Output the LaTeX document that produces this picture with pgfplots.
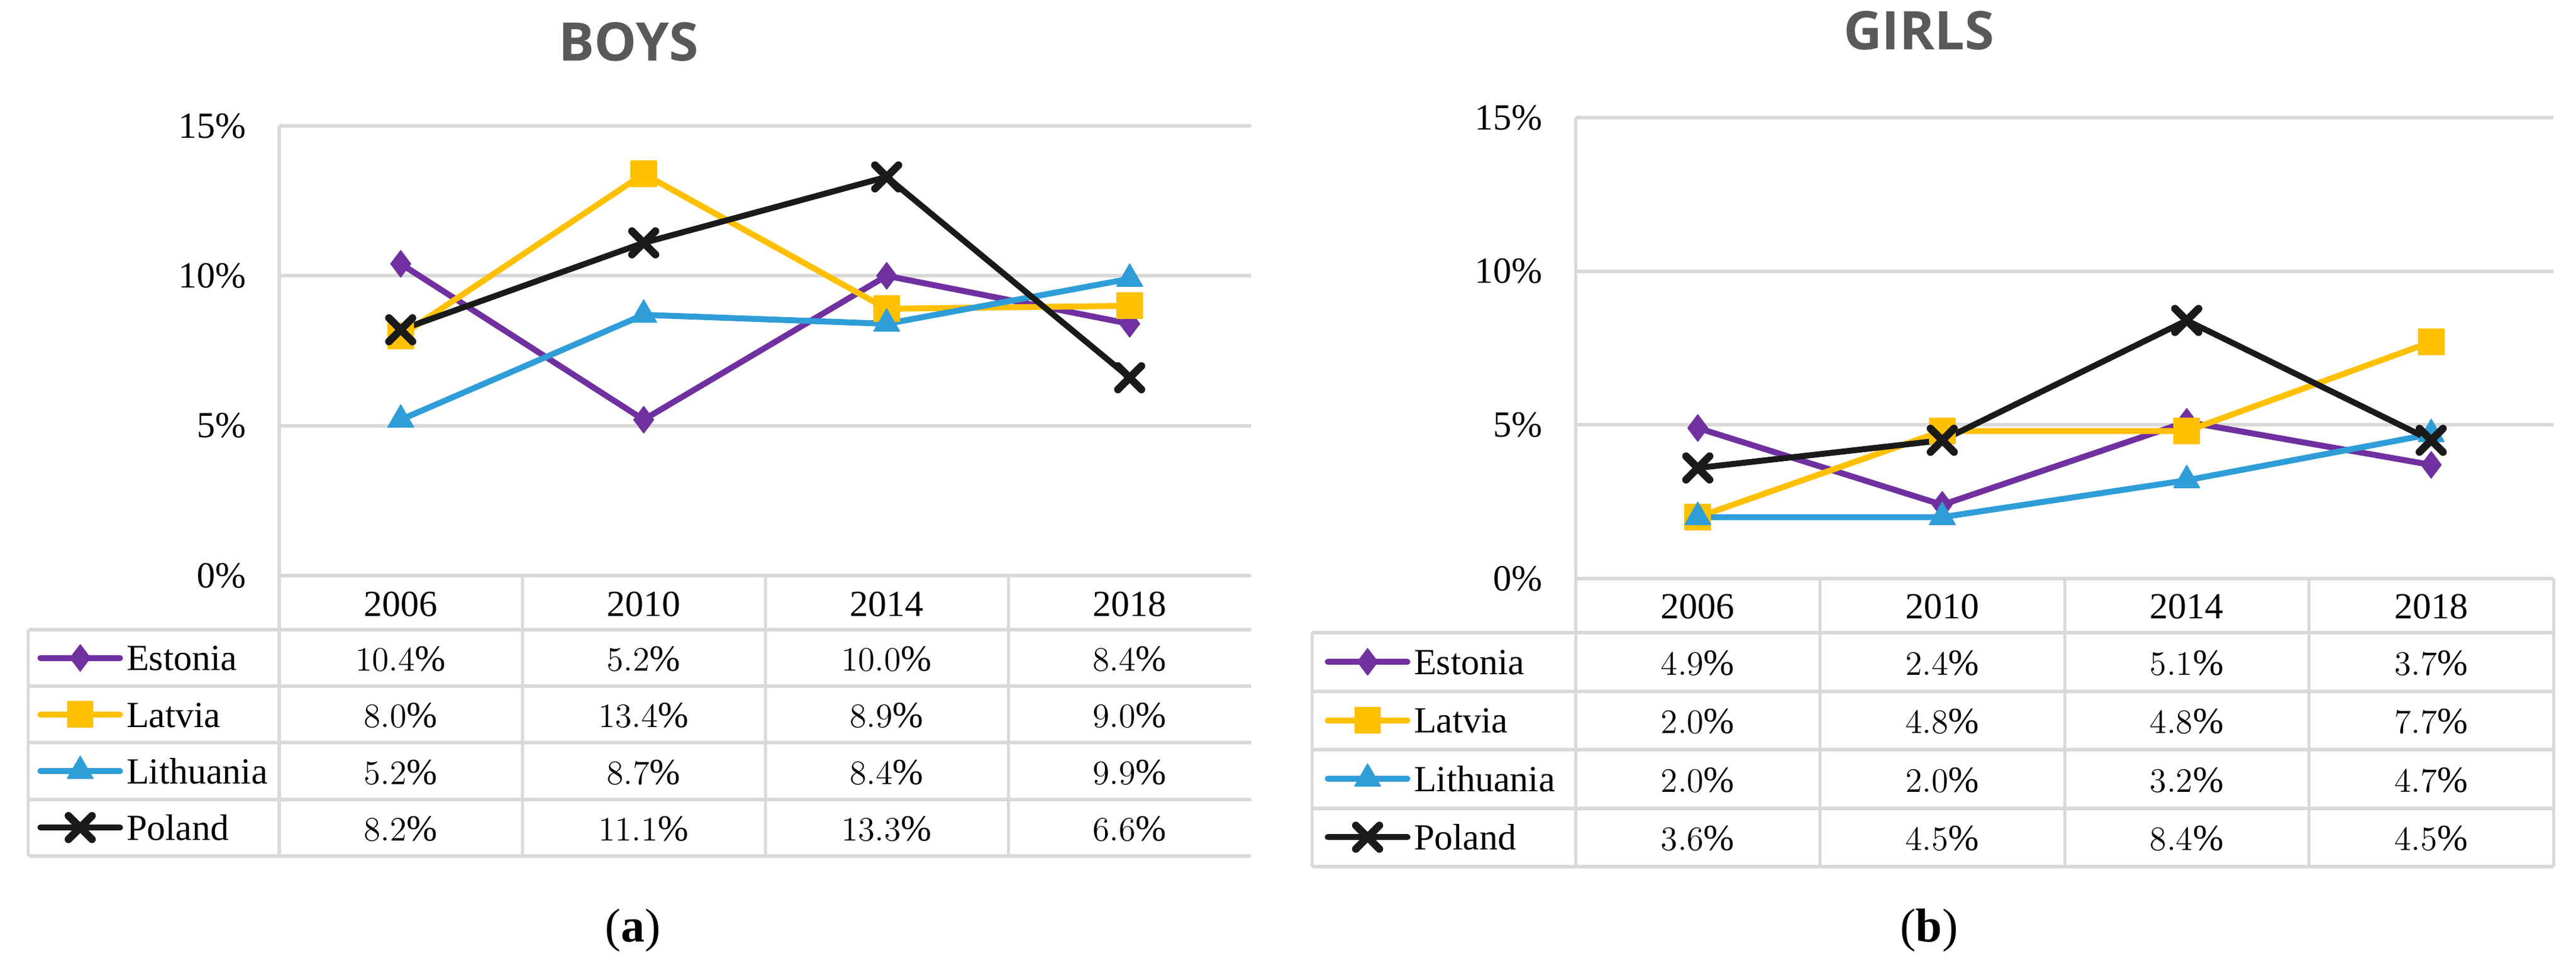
\documentclass[border=0pt]{standalone}
\usepackage{fontspec}
\setmainfont{Liberation Serif}
\newfontfamily\titlefont{Open Sans}
\usepackage{pgfplots}
\pgfplotsset{compat=1.18}
\usepackage{pgfplotstable}

\definecolor{cEst}{HTML}{7030A0}
\definecolor{cLat}{HTML}{FFC000}
\definecolor{cLit}{HTML}{2E9DD8}
\definecolor{cPol}{HTML}{1A1A1A}
\definecolor{gridc}{HTML}{D9D9D9}
\definecolor{titlec}{HTML}{595959}

\pgfplotstableread{
x Estonia Latvia Lithuania Poland
0 10.4 8.0 5.2 8.2
1 5.2 13.4 8.7 11.1
2 10.0 8.9 8.4 13.3
3 8.4 9.0 9.9 6.6
}\boys

\pgfplotstableread{
x Estonia Latvia Lithuania Poland
0 4.9 2.0 2.0 3.6
1 2.4 4.8 2.0 4.5
2 5.1 4.8 3.2 8.4
3 3.7 7.7 4.7 4.5
}\girls

\newcommand{\tfont}{\fontsize{15.5}{18}\selectfont}

\tikzset{
  tline/.style={gridc, line width=1.5pt},
  vline/.style={gridc, line width=1.25pt},
}

\pgfplotsset{
  every axis title shift=0pt,
  base/.style={
    scale only axis, clip=false,
    xmin=-0.5, xmax=3.5, ymin=0, ymax=15,
    axis line style={draw=none}, major tick length=0pt,
    xtick={0,1,2,3}, xticklabels={2006,2010,2014,2018},
    ytick={0,5,10,15}, yticklabels={0\%,5\%,10\%,15\%},
    ymajorgrids, grid style={gridc, line width=1.5pt},
    tick label style={font=\tfont},
    yticklabel style={anchor=east, inner sep=0pt, xshift=-13.75pt},
    legend cell align=left,
    legend image code/.code={\draw[mark repeat=2,mark phase=2,#1] plot coordinates {(0pt,0pt) (16.75pt,0pt) (33.5pt,0pt)};},
    title style={font=\titlefont\bfseries\fontsize{22.4}{26}\selectfont, text=titlec, anchor=center, inner sep=0pt},
  },
  sEst/.style={color=cEst, line width=2.5pt, line join=round, line cap=round, mark=diamond*, mark size=5.6pt, mark options={solid, line width=0.4pt, fill=cEst}},
  sLat/.style={color=cLat, line width=2.5pt, line join=round, line cap=round, mark=square*, mark size=5.4pt, mark options={solid, line width=0.4pt, fill=cLat}},
  sLit/.style={color=cLit, line width=2.5pt, line join=round, line cap=round, mark=triangle*, mark size=6.3pt, mark options={solid, line width=0.4pt, fill=cLit}},
  sPol/.style={color=cPol, line width=2.5pt, line join=round, line cap=round, mark=x, mark size=7pt, mark options={solid, line width=3.2pt}},
  tval/.style={forget plot, draw=none, mark=none,
    nodes near coords={\pgfmathprintnumber[fixed,fixed zerofill,precision=1]{\pgfplotspointmeta}\%},
    nodes near coords style={anchor=center, text=black, font=\tfont, inner sep=0pt, text height=11pt, text depth=0pt}},
}

\begin{document}
\begin{tikzpicture}
\path[use as bounding box] (0,0) rectangle (1084pt,-409.5pt);

% ---------------- BOYS ----------------
\begin{axis}[base,
  at={(117.5pt,-242.25pt)}, anchor=south west,
  width=409pt, height=189.25pt,
  xticklabel style={anchor=center, inner sep=0pt, text height=11pt, text depth=0pt, yshift=-11.5pt},
  title={BOYS}, title style={at={(axis description cs:0.3595,1.1876)}},
  legend style={at={(axis description cs:-0.24875,-0.1202)}, anchor=north west, draw=none, fill=none,
    inner sep=0pt, outer sep=0pt, row sep=0pt, column sep=1.5pt, font=\tfont,
    nodes={inner sep=0pt, text height=17.2pt, text depth=6.6pt}},
]
\draw[vline] (axis cs:-0.5,15) -- (axis cs:-0.5,-9.351);
\draw[vline] (axis cs:0.5,0) -- (axis cs:0.5,-9.351);
\draw[vline] (axis cs:1.5,0) -- (axis cs:1.5,-9.351);
\draw[vline] (axis cs:2.5,0) -- (axis cs:2.5,-9.351);
\draw[vline] (axis cs:-1.532,-1.803) -- (axis cs:-1.532,-9.351);
\draw[tline] (axis cs:-1.532,-1.803) -- (axis cs:3.5,-1.803);
\draw[tline] (axis cs:-1.532,-3.690) -- (axis cs:3.5,-3.690);
\draw[tline] (axis cs:-1.532,-5.577) -- (axis cs:3.5,-5.577);
\draw[tline] (axis cs:-1.532,-7.464) -- (axis cs:3.5,-7.464);
\draw[tline] (axis cs:-1.532,-9.351) -- (axis cs:3.5,-9.351);

\addplot[sEst] table[x=x, y=Estonia] {\boys};
\addlegendentry{Estonia}
\addplot[sLat] table[x=x, y=Latvia] {\boys};
\addlegendentry{Latvia}
\addplot[sLit] table[x=x, y=Lithuania] {\boys};
\addlegendentry{Lithuania}
\addplot[sPol] table[x=x, y=Poland] {\boys};
\addlegendentry{Poland}

\addplot[tval, point meta=\thisrow{Estonia}] table[x=x, y expr=-2.747] {\boys};
\addplot[tval, point meta=\thisrow{Latvia}] table[x=x, y expr=-4.634] {\boys};
\addplot[tval, point meta=\thisrow{Lithuania}] table[x=x, y expr=-6.521] {\boys};
\addplot[tval, point meta=\thisrow{Poland}] table[x=x, y expr=-8.408] {\boys};

\node[font=\fontsize{20}{24}\selectfont, inner sep=0pt] at (axis description cs:0.3637,-0.7887) {(\textbf{a})};
\end{axis}

% ---------------- GIRLS ----------------
\begin{axis}[base,
  at={(663pt,-243.5pt)}, anchor=south west,
  width=411.5pt, height=194pt,
  xticklabel style={anchor=center, inner sep=0pt, text height=11pt, text depth=0pt, yshift=-11.25pt},
  title={GIRLS}, title style={at={(axis description cs:0.3511,1.1894)}},
  legend style={at={(axis description cs:-0.2564,-0.11727)}, anchor=north west, draw=none, fill=none,
    inner sep=0pt, outer sep=0pt, row sep=0pt, column sep=1.5pt, font=\tfont,
    nodes={inner sep=0pt, text height=17.6pt, text depth=7.0pt}},
]
\draw[vline] (axis cs:-0.5,15) -- (axis cs:-0.5,-9.375);
\draw[vline] (axis cs:0.5,0) -- (axis cs:0.5,-9.375);
\draw[vline] (axis cs:1.5,0) -- (axis cs:1.5,-9.375);
\draw[vline] (axis cs:2.5,0) -- (axis cs:2.5,-9.375);
\draw[vline] (axis cs:3.5,0) -- (axis cs:3.5,-9.375);
\draw[vline] (axis cs:-1.577,-1.759) -- (axis cs:-1.577,-9.375);
\draw[tline] (axis cs:-1.577,-1.759) -- (axis cs:3.5,-1.759);
\draw[tline] (axis cs:-1.577,-3.663) -- (axis cs:3.5,-3.663);
\draw[tline] (axis cs:-1.577,-5.567) -- (axis cs:3.5,-5.567);
\draw[tline] (axis cs:-1.577,-7.471) -- (axis cs:3.5,-7.471);
\draw[tline] (axis cs:-1.577,-9.375) -- (axis cs:3.5,-9.375);

\addplot[sEst] table[x=x, y=Estonia] {\girls};
\addlegendentry{Estonia}
\addplot[sLat] table[x=x, y=Latvia] {\girls};
\addlegendentry{Latvia}
\addplot[sLit] table[x=x, y=Lithuania] {\girls};
\addlegendentry{Lithuania}
\addplot[sPol] table[x=x, y=Poland] {\girls};
\addlegendentry{Poland}

\addplot[tval, point meta=\thisrow{Estonia}] table[x=x, y expr=-2.711] {\girls};
\addplot[tval, point meta=\thisrow{Latvia}] table[x=x, y expr=-4.615] {\girls};
\addplot[tval, point meta=\thisrow{Lithuania}] table[x=x, y expr=-6.519] {\girls};
\addplot[tval, point meta=\thisrow{Poland}] table[x=x, y expr=-8.423] {\girls};

\node[font=\fontsize{20}{24}\selectfont, inner sep=0pt] at (axis description cs:0.3615,-0.763) {(\textbf{b})};
\end{axis}
\end{tikzpicture}
\end{document}
